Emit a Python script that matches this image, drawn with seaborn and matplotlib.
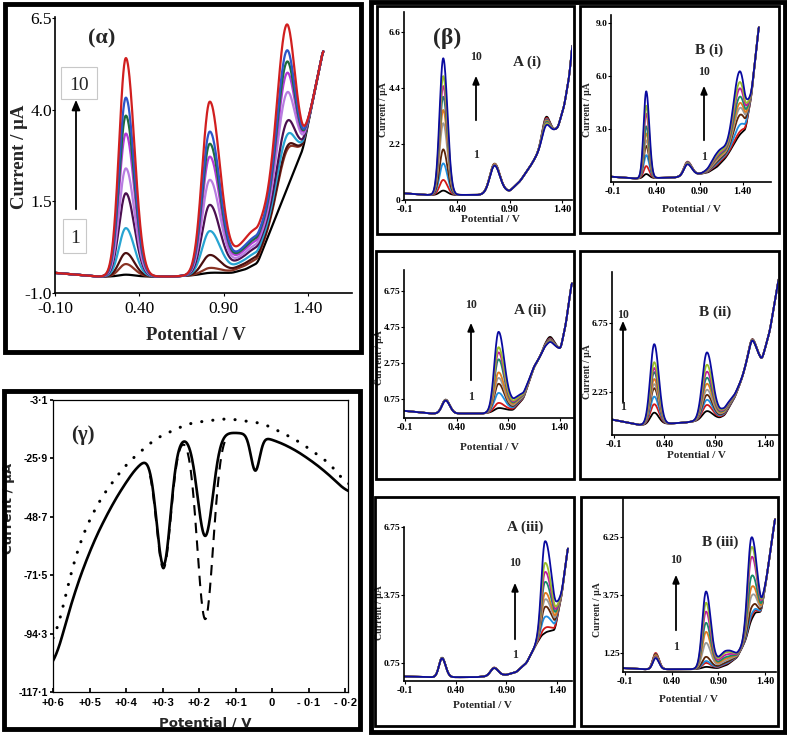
import numpy as np
import pandas as pd
import matplotlib
matplotlib.use("Agg")
import matplotlib.pyplot as plt
from matplotlib.patches import Rectangle, FancyArrowPatch
import seaborn as sns

# ======================= DATA =======================
CURVES = ["1", "2", "3", "4", "5", "6", "7", "8", "9", "10"]

# ---- (alpha) ----
ALPHA_BASE_V = [-0.10, 0.15, 0.60, 0.95, 1.03, 1.10, 1.37, 1.49]
ALPHA_BASE_I = [-0.45, -0.55, -0.55, -0.45, -0.35, -0.18, 2.94, 5.66]
ALPHA_CENTERS = [0.32, 0.817, 1.27]
ALPHA_SIG_L = [0.040, 0.045, 0.055]
ALPHA_SIG_R = [0.050, 0.060, 0.050]
ALPHA_P1 = [-0.50, -0.21, 0.09, 0.77, 1.72, 2.40, 3.35, 3.84, 4.33, 5.41]
ALPHA_P2 = [-0.45, -0.32, 0.03, 0.68, 1.39, 2.07, 2.70, 3.05, 3.38, 4.19]
ALPHA_P3 = [1.79, 2.83, 2.91, 3.21, 3.57, 4.35, 4.87, 5.17, 5.47, 6.15]
ALPHA_HUMP = [0.0, 0.12, 0.19, 0.31, 0.44, 0.52, 0.62, 0.69, 0.75, 0.95]
ALPHA_XTICKS = [-0.10, 0.40, 0.90, 1.40]
ALPHA_XTICKLABELS = ["-0.10", "0.40", "0.90", "1.40"]
ALPHA_YTICKS = [-1.0, 1.5, 4.0, 6.5]
ALPHA_YTICKLABELS = ["-1.0", "1.5", "4.0", "6.5"]

# ---- (beta) A(i) ----
AI_BASE_V = [-0.10, 0.10, 0.60, 0.90, 1.00, 1.10, 1.20, 1.30, 1.36, 1.42, 1.47, 1.50]
AI_BASE_I = [0.26, 0.20, 0.20, 0.35, 0.75, 1.35, 2.05, 2.65, 2.85, 3.70, 4.90, 6.20]
AI_CENTERS = [0.265, 0.755, 1.245]
AI_SIG_L = [0.035, 0.045, 0.035]
AI_SIG_R = [0.040, 0.050, 0.035]
AI_P1 = [0.37, 0.79, 1.44, 1.99, 3.02, 3.54, 4.06, 4.48, 4.87, 5.57]
AI_P2 = [1.40, 1.42, 1.40, 1.43, 1.41, 1.40, 1.38, 1.37, 1.36, 1.35]
AI_P3 = [3.25, 3.20, 3.15, 3.12, 3.10, 3.08, 3.05, 3.00, 2.98, 2.92]
AI_HUMP = [0.0] * 10

# ---- (beta) B(i) ----
BI_BASE_V = [-0.12, 0.15, 0.60, 0.90, 1.00, 1.10, 1.20, 1.30, 1.36, 1.43, 1.50, 1.586]
BI_BASE_I = [0.30, 0.20, 0.25, 0.45, 0.55, 0.85, 1.35, 2.00, 2.40, 2.85, 4.90, 8.90]
BI_CENTERS = [0.284, 0.76, 1.36]
BI_SIG_L = [0.030, 0.040, 0.070]
BI_SIG_R = [0.035, 0.050, 0.060]
BI_P1 = [0.45, 0.90, 1.52, 2.04, 2.36, 2.75, 3.15, 3.87, 4.32, 5.13]
BI_P2 = [1.10, 1.15, 1.12, 1.10, 1.08, 1.06, 1.05, 1.03, 1.02, 1.00]
BI_P3 = [2.64, 2.81, 3.20, 3.76, 4.16, 4.44, 4.80, 5.27, 5.63, 6.24]
BI_HUMP = [0.0, 0.12, 0.20, 0.28, 0.36, 0.44, 0.52, 0.60, 0.68, 0.80]

# ---- (beta) A(ii) ----
AII_BASE_V = [-0.11, 0.15, 0.65, 0.80, 0.95, 1.05, 1.15, 1.25, 1.31, 1.41, 1.46, 1.52]
AII_BASE_I = [0.10, -0.05, -0.05, 0.05, 0.15, 0.80, 2.50, 3.50, 3.65, 3.55, 4.90, 7.30]
AII_CENTERS = [0.294, 0.807, 1.305]
AII_SIG_L = [0.035, 0.040, 0.040]
AII_SIG_R = [0.040, 0.055, 0.040]
AII_P1 = [0.72, 0.71, 0.70, 0.70, 0.70, 0.69, 0.69, 0.68, 0.68, 0.67]
AII_P2 = [0.25, 0.53, 1.08, 1.58, 1.90, 2.20, 2.92, 3.30, 3.58, 4.42]
AII_P3 = [4.20, 4.12, 4.08, 4.05, 4.02, 4.00, 3.98, 3.96, 3.95, 3.92]
AII_HUMP = [0.0, 0.05, 0.10, 0.15, 0.20, 0.25, 0.30, 0.35, 0.40, 0.50]

# ---- (beta) B(ii) ----
BII_BASE_V = [-0.12, 0.15, 0.22, 0.60, 0.95, 1.00, 1.10, 1.20, 1.27, 1.37, 1.45, 1.54]
BII_BASE_I = [0.45, 0.10, 0.10, 0.25, 0.55, 0.75, 1.90, 3.60, 4.40, 4.30, 6.30, 9.80]
BII_CENTERS = [0.30, 0.823, 1.273]
BII_SIG_L = [0.040, 0.045, 0.040]
BII_SIG_R = [0.045, 0.055, 0.045]
BII_P1 = [0.90, 1.45, 1.95, 2.50, 2.77, 3.10, 3.55, 3.82, 4.20, 5.38]
BII_P2 = [1.00, 1.40, 1.73, 2.05, 2.38, 2.77, 3.16, 3.55, 4.00, 4.80]
BII_P3 = [5.70, 5.68, 5.66, 5.65, 5.64, 5.63, 5.62, 5.61, 5.60, 5.60]
BII_HUMP = [0.0, 0.05, 0.10, 0.15, 0.20, 0.25, 0.30, 0.35, 0.40, 0.45]

# ---- (beta) A(iii) ----
AIII_BASE_V = [-0.11, 0.15, 0.60, 0.90, 1.00, 1.10, 1.20, 1.25, 1.30, 1.38, 1.45, 1.51]
AIII_BASE_I = [0.15, 0.12, 0.12, 0.22, 0.35, 0.75, 1.60, 1.95, 2.10, 2.20, 3.80, 5.90]
AIII_CENTERS = [0.266, 0.78, 1.283]
AIII_SIG_L = [0.030, 0.035, 0.035]
AIII_SIG_R = [0.035, 0.040, 0.065]
AIII_P1 = [0.98, 0.97, 0.97, 0.97, 0.96, 0.96, 0.96, 0.95, 0.95, 0.95]
AIII_P2 = [0.54, 0.54, 0.53, 0.53, 0.53, 0.53, 0.52, 0.52, 0.52, 0.52]
AIII_P3 = [2.07, 2.29, 2.78, 3.22, 3.55, 3.83, 4.32, 4.76, 5.16, 6.12]
AIII_HUMP = [0.0] * 10

# ---- (beta) B(iii) ----
BIII_BASE_V = [-0.12, 0.10, 0.60, 0.90, 1.00, 1.10, 1.20, 1.25, 1.30, 1.36, 1.42, 1.51]
BIII_BASE_I = [0.60, 0.55, 0.55, 0.60, 0.75, 1.05, 1.80, 2.40, 2.85, 3.00, 4.50, 7.10]
BIII_CENTERS = [0.23, 0.77, 1.254]
BIII_SIG_L = [0.030, 0.040, 0.040]
BIII_SIG_R = [0.035, 0.050, 0.055]
BIII_P1 = [1.20, 1.25, 1.20, 1.20, 1.15, 1.15, 1.10, 1.08, 1.05, 1.03]
BIII_P2 = [0.65, 0.82, 0.90, 1.08, 1.68, 2.15, 2.54, 3.02, 3.40, 3.88]
BIII_P3 = [2.65, 2.80, 2.89, 3.18, 3.67, 4.05, 4.53, 5.35, 5.78, 6.20]
BIII_HUMP = [0.0, 0.05, 0.08, 0.12, 0.20, 0.28, 0.35, 0.45, 0.55, 0.62]

BETA_XTICKS = [-0.1, 0.40, 0.90, 1.40]
BETA_XTICKLABELS = ["-0.1", "0.40", "0.90", "1.40"]

# ---- (gamma) ----
GAMMA_ENV_V = [0.60, 0.55, 0.50, 0.45, 0.40, 0.36, 0.30, 0.24, 0.18, 0.10, 0.05, 0.00, -0.05, -0.10, -0.15, -0.21]
GAMMA_ENV_I = [-108.6, -82.0, -62.0, -47.0, -35.0, -27.5, -21.3, -17.5, -16.2, -15.8, -16.6, -18.5, -21.5, -26.0, -31.5, -39.6]
GAMMA_DIP_V = [0.297, 0.183, 0.046]
GAMMA_DIP_SOLID = [46.3, 39.8, 13.8]
GAMMA_DIP_DASHED = [47.5, 72.3, 13.8]
GAMMA_DIP_SIG = [0.019, 0.021, 0.012]
GAMMA_DOT_V = [0.60, 0.559, 0.531, 0.476, 0.402, 0.319, 0.228, 0.126, 0.025, -0.067, -0.159, -0.21]
GAMMA_DOT_I = [-100.2, -75.4, -59.8, -42.8, -28.5, -18.1, -12.2, -10.3, -12.2, -18.7, -27.9, -37.0]
GAMMA_XTICKS = [0.6, 0.5, 0.4, 0.3, 0.2, 0.1, 0.0, -0.1, -0.2]
GAMMA_XTICKLABELS = ["+0·6", "+0·5", "+0·4", "+0·3", "+0·2", "+0·1", "0", "- 0·1", "- 0·2"]
GAMMA_YTICKS = [-3.1, -25.9, -48.7, -71.5, -94.3, -117.1]
GAMMA_YTICKLABELS = ["-3·1", "-25·9", "-48·7", "-71·5", "-94·3", "-117·1"]

ALPHA_COLORS = ["#000000", "#8a3324", "#4a0f0f", "#27a4d2", "#4a0f4f",
                "#b77ee0", "#b23ad6", "#1d6b3c", "#2d56c9", "#d11f1f"]
BETA_COLORS = ["#000000", "#d01818", "#1f8fe0", "#5c2408", "#9a9a9a",
               "#e07b20", "#178a6a", "#c2199c", "#9bbf2a", "#0a0aa0"]

# ======================= FIGURE =======================
sns.set_theme(style="white")
plt.rcParams["font.family"] = ["Liberation Serif", "DejaVu Serif"]

W, H = 787, 736
fig = plt.figure(figsize=(W / 100, H / 100), dpi=100)
fig.patch.set_facecolor("white")


def fx(x):
    return x / W


def fy(y):
    return 1 - y / H


def ax_px(x0, y0, x1, y1):
    return fig.add_axes([fx(x0), fy(y1), (x1 - x0) / W, (y1 - y0) / H])


def box_px(x0, y0, x1, y1, lw, ec="black"):
    fig.add_artist(Rectangle((fx(x0), fy(y1)), (x1 - x0) / W, (y1 - y0) / H,
                             transform=fig.transFigure, fill=False, ec=ec, lw=lw, zorder=20))


def ftext(x, y, s, **kw):
    kw.setdefault("ha", "center")
    kw.setdefault("va", "center")
    fig.text(fx(x), fy(y), s, **kw)


def farrow(x, y0, y1, lw=1.2, scale=9):
    fig.add_artist(FancyArrowPatch((fx(x), fy(y0)), (fx(x), fy(y1)), transform=fig.transFigure,
                                   arrowstyle="-|>,head_length=0.6,head_width=0.25",
                                   mutation_scale=scale, lw=lw, color="black", zorder=15))


def smooth(y, n):
    k = np.ones(n) / n
    return np.convolve(np.pad(y, n // 2, mode="edge"), k, mode="valid")


def curves_df(x, base_v, base_i, centers, sig_l, sig_r, peaks, hump, hump_c, hump_s):
    base = smooth(np.interp(x, base_v, base_i), 11)
    parts = []
    for k, name in enumerate(CURVES):
        y = base.copy()
        for j, c in enumerate(centers):
            h = max(peaks[j][k] - np.interp(c, x, base), 0.0)
            s = np.where(x < c, sig_l[j], sig_r[j])
            y = y + h * np.exp(-0.5 * ((x - c) / s) ** 2)
        y = y + hump[k] * np.exp(-0.5 * ((x - hump_c) / hump_s) ** 2)
        parts.append(pd.DataFrame({"V": x, "I": y, "curve": name}))
    return pd.concat(parts, ignore_index=True)


def draw(ax, df, palette, lw):
    sns.lineplot(data=df, x="V", y="I", hue="curve", hue_order=CURVES, palette=palette,
                 estimator=None, sort=False, lw=lw, legend=False, ax=ax)
    ax.set_xlabel("")
    ax.set_ylabel("")
    ax.patch.set_alpha(0)


def style_axes(ax, xlim, ylim, xt, xtl, yt, ytl, xsize, ysize, weight, spine_lw):
    ax.set_xlim(xlim)
    ax.set_ylim(ylim)
    ax.set_xticks(xt)
    ax.set_xticklabels(xtl, fontsize=xsize, fontweight=weight)
    ax.set_yticks(yt)
    ax.set_yticklabels(ytl, fontsize=ysize, fontweight=weight)
    for s in ["top", "right"]:
        ax.spines[s].set_visible(False)
    for s in ["left", "bottom"]:
        ax.spines[s].set_color("black")
        ax.spines[s].set_linewidth(spine_lw)
    ax.tick_params(axis="both", direction="out", length=2.5, width=0.8, pad=1,
                   colors="black", left=True, bottom=True)


# ---------------- (alpha) ----------------
axA = ax_px(55, 17, 352, 293)
xa = np.linspace(-0.10, 1.49, 700)
dfa = curves_df(xa, ALPHA_BASE_V, ALPHA_BASE_I, ALPHA_CENTERS, ALPHA_SIG_L, ALPHA_SIG_R,
                [ALPHA_P1, ALPHA_P2, ALPHA_P3], ALPHA_HUMP, 1.08, 0.10)
draw(axA, dfa, ALPHA_COLORS, 1.6)
style_axes(axA, (-0.10, 1.66), (-1.0, 6.53), ALPHA_XTICKS, ALPHA_XTICKLABELS,
           ALPHA_YTICKS, ALPHA_YTICKLABELS, 12.5, 12.5, "normal", 1.2)
axA.tick_params(axis="x", pad=3)
axA.tick_params(axis="y", pad=0, length=2)
ftext(20, 157, "Current / μA", rotation=90, fontsize=13.5, fontweight="bold")
ftext(196, 336, "Potential / V", fontsize=13.5, fontweight="bold")
ftext(102, 38, "(α)", fontsize=16, fontweight="bold")
box_px(61, 67, 97, 99, 0.8, ec="#c8c8c8")
box_px(63, 219, 86, 253, 0.8, ec="#c8c8c8")
ftext(79, 85, "10", fontsize=14)
ftext(75, 238, "1", fontsize=14)
farrow(76, 212, 97, lw=1.3, scale=10)
box_px(5, 4, 361, 352, 3.5)

# ---------------- (gamma) ----------------
axG = ax_px(53, 400, 348, 692)
xg = np.linspace(0.60, -0.21, 900)
env = smooth(np.interp(xg, GAMMA_ENV_V[::-1], GAMMA_ENV_I[::-1]), 61)
solid = env.copy()
dashed = env.copy()
for c, ds, dd, s in zip(GAMMA_DIP_V, GAMMA_DIP_SOLID, GAMMA_DIP_DASHED, GAMMA_DIP_SIG):
    solid = solid - ds * np.exp(-0.5 * ((xg - c) / s) ** 2)
    dashed = dashed - dd * np.exp(-0.5 * ((xg - c) / (s * 1.03)) ** 2)
dotted = smooth(np.interp(xg, GAMMA_DOT_V[::-1], GAMMA_DOT_I[::-1]), 61)
mask = (xg < 0.335) & (xg > 0.12)
sns.lineplot(x=xg[mask], y=dashed[mask], color="black", lw=1.5, estimator=None, sort=False,
             ax=axG, linestyle=(0, (5, 3.5)))
sns.lineplot(x=xg, y=solid, color="black", lw=1.9, estimator=None, sort=False, ax=axG)
sns.lineplot(x=xg, y=dotted, color="black", lw=2.2, estimator=None, sort=False, ax=axG,
             linestyle=(0, (0.05, 3.6)), dash_capstyle="round")
axG.set_xlim(0.60, -0.208)
axG.set_ylim(-117.1, -3.1)
axG.set_xticks(GAMMA_XTICKS)
gfont = ["Liberation Sans Narrow", "Liberation Sans", "DejaVu Sans"]
axG.set_xticklabels(GAMMA_XTICKLABELS, fontsize=8, fontweight="bold", family=gfont)
axG.set_yticks(GAMMA_YTICKS)
axG.set_yticklabels(GAMMA_YTICKLABELS, fontsize=7.5, fontweight="bold", family=gfont)
for s in axG.spines.values():
    s.set_color("black")
    s.set_linewidth(0.9)
axG.tick_params(axis="x", direction="in", length=3, pad=4, colors="black", bottom=True)
axG.tick_params(axis="y", direction="out", length=2, pad=1.5, colors="black", left=True)
axG.set_xlabel("")
axG.set_ylabel("")
ftext(9, 508, "Current / μA", rotation=90, fontsize=9.5, fontweight="bold", family=["DejaVu Sans"])
ftext(205, 723, "Potential / V", fontsize=9.5, fontweight="bold", family=["DejaVu Sans"])
ftext(83, 435, "(γ)", fontsize=15, fontweight="bold")
box_px(4, 391, 360, 729, 3.5)

# ---------------- (beta) sub panels ----------------
panels = [
    dict(rect=(404, 12, 572, 200), xr=(-0.10, 1.50), bv=AI_BASE_V, bi=AI_BASE_I, c=AI_CENTERS,
         sl=AI_SIG_L, sr=AI_SIG_R, p=[AI_P1, AI_P2, AI_P3], h=AI_HUMP, hc=1.0, hs=0.08,
         xlim=(-0.11, 1.495), ylim=(0, 7.39), yt=[0, 2.2, 4.4, 6.6], ytl=["0", "2.2", "4.4", "6.6"]),
    dict(rect=(611, 15, 771, 182), xr=(-0.12, 1.586), bv=BI_BASE_V, bi=BI_BASE_I, c=BI_CENTERS,
         sl=BI_SIG_L, sr=BI_SIG_R, p=[BI_P1, BI_P2, BI_P3], h=BI_HUMP, hc=1.12, hs=0.08,
         xlim=(-0.123, 1.726), ylim=(0, 9.45), yt=[3.0, 6.0, 9.0], ytl=["3.0", "6.0", "9.0"]),
    dict(rect=(404, 270, 574, 418), xr=(-0.11, 1.52), bv=AII_BASE_V, bi=AII_BASE_I, c=AII_CENTERS,
         sl=AII_SIG_L, sr=AII_SIG_R, p=[AII_P1, AII_P2, AII_P3], h=AII_HUMP, hc=0.97, hs=0.08,
         xlim=(-0.11, 1.54), ylim=(-0.30, 7.92), yt=[0.75, 2.75, 4.75, 6.75],
         ytl=["0.75", "2.75", "4.75", "6.75"]),
    dict(rect=(612, 272, 778, 435), xr=(-0.12, 1.54), bv=BII_BASE_V, bi=BII_BASE_I, c=BII_CENTERS,
         sl=BII_SIG_L, sr=BII_SIG_R, p=[BII_P1, BII_P2, BII_P3], h=BII_HUMP, hc=1.0, hs=0.08,
         xlim=(-0.12, 1.53), ylim=(-0.56, 10.1), yt=[2.25, 6.75], ytl=["2.25", "6.75"]),
    dict(rect=(404, 527, 572, 681), xr=(-0.11, 1.51), bv=AIII_BASE_V, bi=AIII_BASE_I, c=AIII_CENTERS,
         sl=AIII_SIG_L, sr=AIII_SIG_R, p=[AIII_P1, AIII_P2, AIII_P3], h=AIII_HUMP, hc=1.0, hs=0.08,
         xlim=(-0.11, 1.55), ylim=(-0.05, 6.75), yt=[0.75, 3.75, 6.75], ytl=["0.75", "3.75", "6.75"]),
    dict(rect=(623, 498, 776, 672), xr=(-0.12, 1.51), bv=BIII_BASE_V, bi=BIII_BASE_I, c=BIII_CENTERS,
         sl=BIII_SIG_L, sr=BIII_SIG_R, p=[BIII_P1, BIII_P2, BIII_P3], h=BIII_HUMP, hc=0.98, hs=0.08,
         xlim=(-0.12, 1.52), ylim=(0.43, 7.93), yt=[1.25, 3.75, 6.25], ytl=["1.25", "3.75", "6.25"]),
]

for P in panels:
    ax = ax_px(*P["rect"])
    xb = np.linspace(P["xr"][0], P["xr"][1], 700)
    df = curves_df(xb, P["bv"], P["bi"], P["c"], P["sl"], P["sr"], P["p"], P["h"], P["hc"], P["hs"])
    draw(ax, df, BETA_COLORS, 1.3)
    style_axes(ax, P["xlim"], P["ylim"], BETA_XTICKS, BETA_XTICKLABELS, P["yt"], P["ytl"],
               7.5, 6.8, "bold", 1.2)
    ax.tick_params(axis="y", length=2, pad=0.5)

# labels in beta
ylab = [(383, 110), (588, 110), (380, 358), (587, 372), (379, 613), (597, 610)]
xlab = [(490, 220), (691, 210), (489, 447), (696, 455), (482, 705), (688, 700)]
for (x, y) in ylab:
    ftext(x, y, "Current / μA", rotation=90, fontsize=7, fontweight="bold")
for (x, y) in xlab:
    ftext(x, y, "Potential / V", fontsize=8, fontweight="bold")

names = [("A (i)", 527, 62), ("B (i)", 709, 50), ("A (ii)", 530, 310),
         ("B (ii)", 715, 312), ("A (iii)", 525, 527), ("B (iii)", 720, 542)]
for s, x, y in names:
    ftext(x, y, s, fontsize=11, fontweight="bold")
ftext(447, 38, "(β)", fontsize=17, fontweight="bold")

arrows = [(476, 123, 73, 57, 155), (704, 143, 83, 72, 157), (471, 383, 320, 305, 397),
          (623, 405, 318, 315, 407), (515, 642, 580, 563, 655), (676, 633, 572, 560, 647)]
for x, yb, yt, y10, y1 in arrows:
    farrow(x, yb, yt, lw=1.3, scale=8)
    ftext(x, y10, "10", fontsize=8.5, fontweight="bold")
    ftext(x, y1, "1", fontsize=8.5, fontweight="bold")

# boxes
box_px(377, 6, 574, 234, 2.0)
box_px(580, 6, 779, 233, 2.0)
box_px(376, 251, 574, 479, 2.0)
box_px(580, 251, 779, 479, 2.0)
box_px(375, 497, 574, 726, 2.0)
box_px(581, 497, 778, 726, 2.0)
box_px(371, 2, 785, 732, 3.5)

fig.savefig("out.png", dpi=100, facecolor="white")
